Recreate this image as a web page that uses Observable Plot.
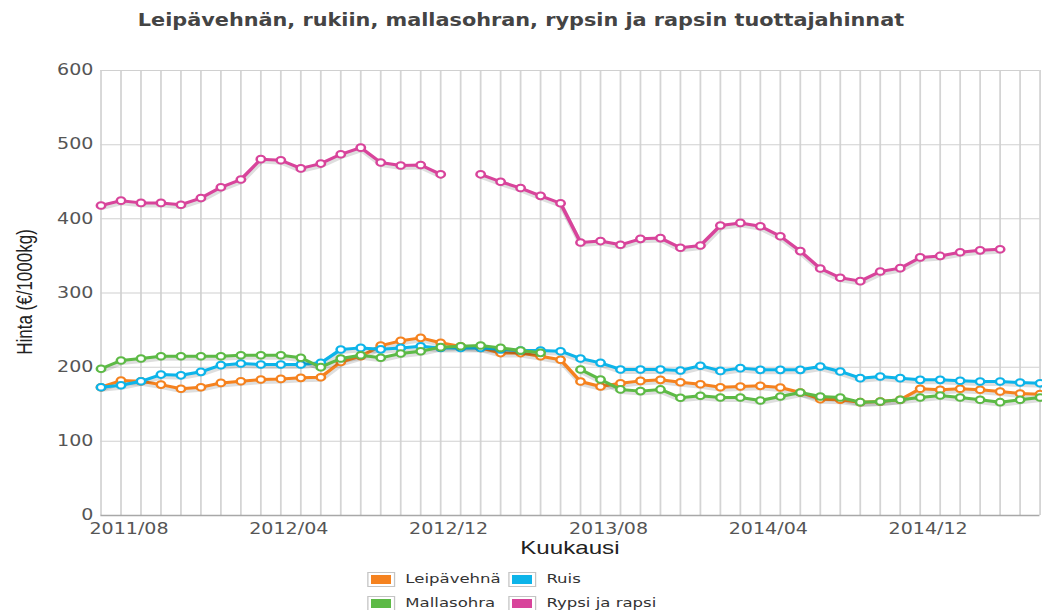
<!DOCTYPE html>
<html><head><meta charset="utf-8">
<script src="https://cdn.jsdelivr.net/npm/d3@7"></script>
<script src="https://cdn.jsdelivr.net/npm/@observablehq/plot@0.6"></script>
<style>
html,body{margin:0;padding:0;background:#fff;overflow:hidden;width:1042px;height:610px}
#wrap{position:relative;width:820px;height:610px;transform:scaleX(1.2707);transform-origin:0 0}
#title{position:absolute;left:0;top:9px;width:820px;text-align:center;font-weight:bold;font-size:18.2px;font-family:"Liberation Sans Narrow","DejaVu Sans Condensed",sans-serif;color:#444;line-height:22px;white-space:nowrap}
#chart{position:absolute;left:0;top:45px}
#ylab{position:absolute;left:20px;top:292px;transform:translate(-50%,-50%) rotate(-90deg);font-family:"Liberation Sans",Arial,sans-serif;font-size:17px;color:#222;white-space:nowrap}
#xlab{position:absolute;left:79px;width:739px;text-align:center;top:539px;font-family:"Liberation Sans",Arial,sans-serif;font-size:19px;line-height:18px;color:#222}
#legend{position:absolute;left:289px;top:569px;display:grid;grid-template-columns:auto auto;column-gap:6px;row-gap:4px}
.item{display:flex;align-items:center;height:20px}
.sw{width:22px;height:15px;box-sizing:border-box;border:1px solid #c4c4c4;padding:2px;background-clip:content-box}
.lt{margin-left:8px;font-family:"DejaVu Sans",Verdana,sans-serif;font-size:13px;line-height:16px;color:#333;white-space:nowrap}
</style>
</head><body>
<div id="wrap">
  <div id="title">Leipävehnän, rukiin, mallasohran, rypsin ja rapsin tuottajahinnat</div>
  <div id="chart"></div>
  <div id="ylab">Hinta (€/1000kg)</div>
  <div id="xlab">Kuukausi</div>
  <div id="legend"></div>
</div>
<script>
const months = [
  "2011/08","2011/09","2011/10","2011/11","2011/12",
  "2012/01","2012/02","2012/03","2012/04","2012/05","2012/06","2012/07","2012/08","2012/09","2012/10","2012/11","2012/12",
  "2013/01","2013/02","2013/03","2013/04","2013/05","2013/06","2013/07","2013/08","2013/09","2013/10","2013/11","2013/12",
  "2014/01","2014/02","2014/03","2014/04","2014/05","2014/06","2014/07","2014/08","2014/09","2014/10","2014/11","2014/12",
  "2015/01","2015/02","2015/03","2015/04","2015/05","2015/06","2015/07"
];
const xTickLabels = ["2011/08","2012/04","2012/12","2013/08","2014/04","2014/12"];
const yTicks = [0,100,200,300,400,500,600];

const seriesNames = ["Leipävehnä","Ruis","Mallasohra","Rypsi ja rapsi"];
const seriesColors = ["#f5821f","#0db4e9","#5dba46","#d8449b"];

const leipavehna = [173,182,181,176.5,171,173,178.8,181,183.3,184.2,185.6,186.5,207,214.8,229,235.5,239.5,233,228,226,219,219,214.8,210,180.6,174,178.4,181.5,182.9,179.7,177,173,174,174.8,172.6,165.9,156.9,156,152.8,153.7,156,170.8,169.5,170.8,169.5,167.2,164.5,163.6];
const ruis = [173,175.7,181,190,189,193.7,202.7,205,203.6,203.6,203.6,205.8,223.8,226,224,226,228.3,226,226,226,223.8,222.4,222.4,221.5,211.7,205.8,196.9,196.9,196.9,195.5,202,195,198.7,196.4,196.4,196.4,200.9,194.2,185.2,187.4,185.2,182.9,182.9,181.6,180.7,180.7,179.3,178.4];
const mallasohra = [197.8,209,211.7,214.8,214.8,214.8,214.8,216,216,216,212.6,200,211.7,216,212.6,218.5,221.5,227,228.3,229.2,226,222.4,219.3,null,196.9,183.4,170,167.7,170,158.8,161.5,159.1,159.1,155.1,160.5,165.9,160.5,159.1,152.8,153.7,156,159.1,161.8,159.1,156,152.8,156,159.1];
const rypsi = [418,424.5,421.5,421.5,419,428,442.5,453,480.5,479,468,474.5,487,496,476,472,472.5,460,null,460,450,441.5,431,421,368,370,365,373,374,361,364,391,394.5,390,376.5,356.5,333,320.5,316,329,333.5,348,350,355,357.5,359,null,null];

const seriesValues = [leipavehna, ruis, mallasohra, rypsi];

const data = [];
seriesNames.forEach((name, i) => {
  seriesValues[i].forEach((v, k) => data.push({series: name, month: months[k], value: v}));
});

const seriesMarks = [];
seriesNames.forEach((name, i) => {
  const d = data.filter(r => r.series === name);
  seriesMarks.push(
    Plot.line(d, {x: "month", y: "value", stroke: "#000", strokeOpacity: 0.13, strokeWidth: 4, dy: 2.5, dx: 0.5}),
    Plot.line(d, {x: "month", y: "value", stroke: seriesColors[i], strokeWidth: 3}),
    Plot.dot(d.filter(r => r.value != null), {x: "month", y: "value", r: 3.3, fill: "white", stroke: seriesColors[i], strokeWidth: 2})
  );
});

const chart = Plot.plot({
  width: 820,
  height: 500,
  marginLeft: 79,
  marginRight: 2,
  marginTop: 25,
  marginBottom: 30,
  style: {fontFamily: "DejaVu Sans, Verdana, sans-serif", fontSize: "15px", color: "#555", background: "transparent"},
  x: {type: "point", domain: months, padding: 0, axis: null},
  y: {domain: [0, 600], ticks: yTicks, tickSize: 0, tickPadding: 6, label: null},
  marks: [
    Plot.ruleX(months, {x: d => d, stroke: "#d4d4d4", strokeWidth: 1.4}),
    Plot.ruleY(yTicks.filter(t => t > 0), {y: d => d, stroke: "#d0d0d0", strokeWidth: 1}),
    Plot.ruleY([0], {y: d => d, stroke: "#a8a8a8", strokeWidth: 1.6}),
    Plot.text(xTickLabels, {x: d => d, y: 0, dy: 14, dx: 22, fill: "#555", fontSize: 15, fontFamily: "DejaVu Sans, Verdana, sans-serif"}),
    ...seriesMarks
  ]
});
document.getElementById("chart").appendChild(chart);

const legendOrder = [0, 1, 2, 3];
const legend = document.getElementById("legend");
legendOrder.forEach(i => {
  const item = document.createElement("div");
  item.className = "item";
  const sw = document.createElement("span");
  sw.className = "sw";
  sw.style.backgroundColor = seriesColors[i];
  const lt = document.createElement("span");
  lt.className = "lt";
  lt.textContent = seriesNames[i];
  item.appendChild(sw);
  item.appendChild(lt);
  legend.appendChild(item);
});
</script>
</body></html>
